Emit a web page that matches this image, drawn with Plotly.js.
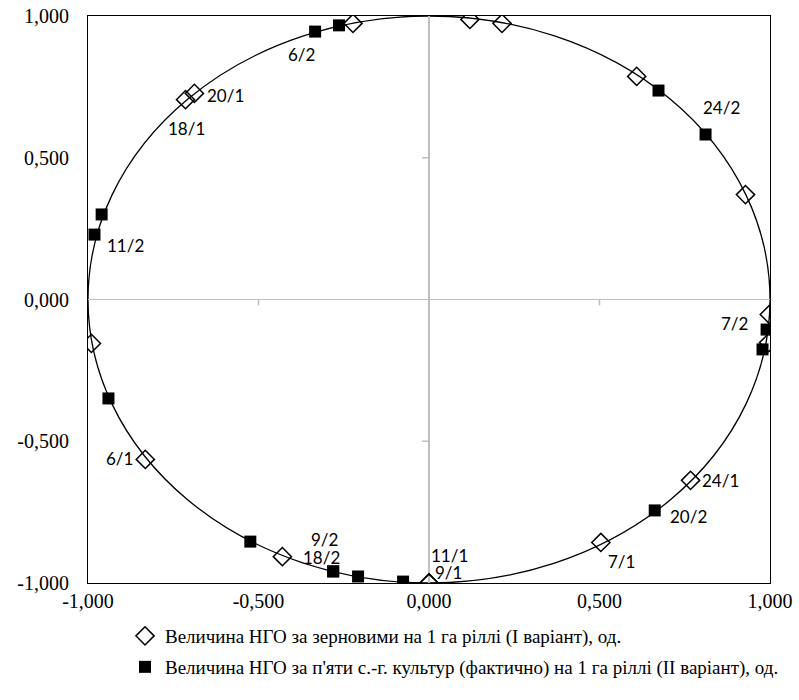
<!DOCTYPE html>
<html>
<head>
<meta charset="utf-8">
<script src="https://cdn.plot.ly/plotly-3.0.1.min.js"></script>
<style>html,body{margin:0;padding:0;background:#fff;}</style>
</head>
<body>
<div id="chart" style="width:799px;height:700px;"></div>
<script>
// Series I: НГО за зерновими (diamonds)
var seriesI_x = [-0.223, -0.688, -0.714, 0.120, 0.214, 0.609, 0.928, 0.998, 0.996, -0.990, -0.832, -0.430, 0.000, 0.000, 0.504, 0.767];
var seriesI_y = [0.974, 0.727, 0.705, 0.988, 0.974, 0.787, 0.370, -0.053, -0.152, -0.155, -0.564, -0.907, -1.000, -1.000, -0.857, -0.638];
var seriesI_labels = ['', '20/1', '18/1', '', '', '', '', '', '', '', '6/1', '', '11/1', '9/1', '7/1', '24/1'];

// Series II: НГО за п'яти с.-г. культур (squares)
var seriesII_x = [-0.334, -0.264, 0.673, 0.811, -0.960, -0.981, -0.940, 0.990, 0.978, -0.524, -0.281, -0.281, -0.208, -0.076, 0.662];
var seriesII_y = [0.945, 0.967, 0.737, 0.582, 0.300, 0.229, -0.349, -0.106, -0.176, -0.854, -0.959, -0.959, -0.977, -0.995, -0.744];
var seriesII_labels = ['6/2', '', '', '24/2', '', '11/2', '', '7/2', '', '', '9/2', '18/2', '', '', '20/2'];

var seriesNames = [
  'Величина НГО за зерновими на 1 га ріллі (І варіант), од.',
  "Величина НГО за п'яти с.-г. культур (фактично) на 1 га ріллі (ІІ варіант), од."
];

var tickVals = [-1, -0.5, 0, 0.5, 1];
var tickText = ['-1,000', '-0,500', '0,000', '0,500', '1,000'];

// label offsets in pixels (style only)
var labelOffsets = {
  '20/1': [31, -2], '18/1': [1, -29], '6/1': [-26, 1], '11/1': [20, 28], '9/1': [19, 11],
  '7/1': [21, -19], '24/1': [30, 0],
  '6/2': [-14, -23], '24/2': [16, 27], '11/2': [31, -11], '7/2': [-32, 6], '9/2': [-9, 32],
  '18/2': [-12, 14], '20/2': [34, -6]
};

var traces = [
  {
    type: 'scatter', mode: 'markers', name: seriesNames[0],
    x: seriesI_x, y: seriesI_y,
    marker: {symbol: 'diamond-open', size: 14, color: '#000', line: {width: 1.5, color: '#000'}},
    legend: 'legend', hoverinfo: 'x+y'
  },
  {
    type: 'scatter', mode: 'markers', name: seriesNames[1],
    x: seriesII_x, y: seriesII_y,
    marker: {symbol: 'square', size: 12, color: '#000', line: {width: 0}},
    legend: 'legend2', hoverinfo: 'x+y'
  }
];

var annotations = [];
function addLabels(xs, ys, labels) {
  for (var i = 0; i < labels.length; i++) {
    if (!labels[i]) continue;
    var off = labelOffsets[labels[i]] || [0, 0];
    annotations.push({
      x: xs[i], y: ys[i], xref: 'x', yref: 'y', text: labels[i], showarrow: false,
      xanchor: 'center', yanchor: 'middle', xshift: off[0], yshift: off[1],
      font: {family: 'Lato, "Open Sans", sans-serif', size: 17, color: '#000'}
    });
  }
}
addLabels(seriesI_x, seriesI_y, seriesI_labels);
addLabels(seriesII_x, seriesII_y, seriesII_labels);

var shapes = [
  {type: 'circle', xref: 'x', yref: 'y', x0: -1, x1: 1, y0: -1, y1: 1,
   line: {color: '#000', width: 1.3}, layer: 'below'}
];
// minor tick marks on the crossing zero axes
[-0.5, 0.5].forEach(function (v) {
  shapes.push({type: 'line', xref: 'x', yref: 'y', x0: v, x1: v, ysizemode: 'pixel', yanchor: 0, y0: 0, y1: -6,
    line: {color: '#bfbfbf', width: 1.5}, layer: 'below'});
  shapes.push({type: 'line', xref: 'x', yref: 'y', y0: v, y1: v, xsizemode: 'pixel', xanchor: 0, x0: -7, x1: 0,
    line: {color: '#bfbfbf', width: 1.5}, layer: 'below'});
});

var serifFont = '"Liberation Serif", "Times New Roman", serif';
var axisCommon = {
  range: [-1, 1], tickvals: tickVals, ticktext: tickText,
  showgrid: false, zeroline: true, zerolinecolor: '#bfbfbf', zerolinewidth: 1.5,
  showline: true, mirror: true, linecolor: '#000', linewidth: 1,
  ticks: '', tickfont: {family: serifFont, size: 20, color: '#000'},
  fixedrange: true
};

var layout = {
  width: 799, height: 700,
  margin: {l: 88, r: 29, t: 16, b: 117, autoexpand: false},
  paper_bgcolor: '#fff', plot_bgcolor: '#fff',
  xaxis: Object.assign({}, axisCommon, {ticklabelstandoff: 0}),
  yaxis: Object.assign({}, axisCommon, {ticklabelstandoff: 14}),
  showlegend: true,
  legend: {x: 125 / 799, y: 1 - 617 / 700, xref: 'container', yref: 'container', xanchor: 'left', yanchor: 'top',
    bgcolor: 'rgba(0,0,0,0)', itemwidth: 30,
    font: {family: serifFont, size: 19, color: '#000'}},
  legend2: {x: 125 / 799, y: 1 - 648 / 700, xref: 'container', yref: 'container', xanchor: 'left', yanchor: 'top',
    bgcolor: 'rgba(0,0,0,0)', itemwidth: 30,
    font: {family: serifFont, size: 19, color: '#000'}},
  annotations: annotations,
  shapes: shapes
};

Plotly.newPlot('chart', traces, layout, {displayModeBar: false, staticPlot: true});
</script>
</body>
</html>
